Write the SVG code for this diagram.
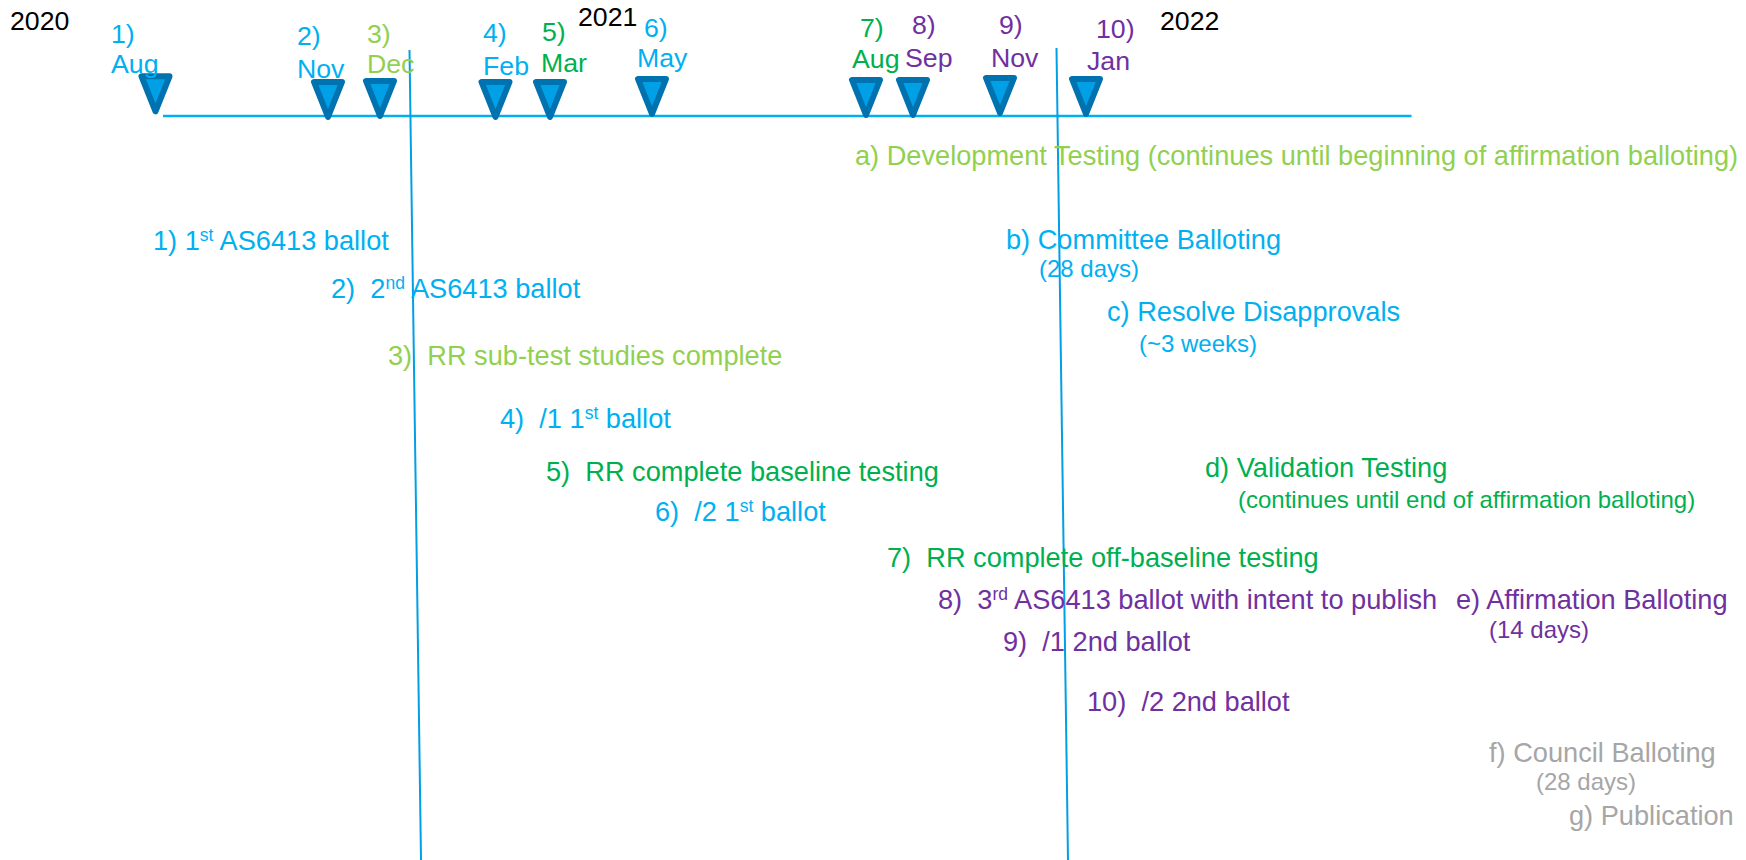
<svg xmlns="http://www.w3.org/2000/svg" xmlns:xlink="http://www.w3.org/1999/xlink" width="1746" height="860" viewBox="0 0 1746 860">
<style>
text{font-family:"Liberation Sans",Arial,sans-serif;font-size:27.2px;white-space:pre}
.yr{font-size:26.7px}
.mo{font-size:26.7px}
.sm{font-size:24px}
.sup{font-size:17.5px}
.k{fill:#000}
.lb{fill:#00B0F0}
.lg{fill:#92D050}
.g{fill:#00B050}
.p{fill:#7030A0}
.gr{fill:#A6A6A6}
.tri{fill:#00A0E6;stroke:#0072B0;stroke-width:6;stroke-linejoin:round}
.axis{stroke:#00B0F0;stroke-width:2.5;fill:none}
.vline{stroke:#00A0E6;stroke-width:2;fill:none}
</style>
<defs>
<path id="tri" d="M-14,3 H14 L0,38 Z"/>
</defs>
<rect width="1746" height="860" fill="#fff"/>

<g id="connectors">
<line class="axis" x1="163" y1="116" x2="1411.5" y2="116"/>
<line class="vline" x1="409.5" y1="50" x2="421" y2="860"/>
<line class="vline" x1="1056.5" y1="48" x2="1068" y2="860"/>
</g>

<g id="years">
<text class="k yr" x="10" y="30">2020</text>
<text class="k yr" x="578" y="26">2021</text>
<text class="k yr" x="1160" y="30">2022</text>
</g>

<g id="m1"><use class="tri" href="#tri" x="155.5" y="73.3"/><text class="lb mo" x="111" y="42.5">1)</text><text class="lb mo" x="111" y="73">Aug</text></g>
<g id="m2"><use class="tri" href="#tri" x="328" y="79"/><text class="lb mo" x="297" y="45">2)</text><text class="lb mo" x="297" y="78">Nov</text></g>
<g id="m3"><use class="tri" href="#tri" x="380" y="78"/><text class="lg mo" x="367" y="42.5">3)</text><text class="lg mo" x="367" y="73">Dec</text></g>
<g id="m4"><use class="tri" href="#tri" x="495.5" y="79"/><text class="lb mo" x="483" y="42">4)</text><text class="lb mo" x="483" y="75">Feb</text></g>
<g id="m5"><use class="tri" href="#tri" x="550" y="79"/><text class="g mo" x="542" y="41">5)</text><text class="g mo" x="541" y="72">Mar</text></g>
<g id="m6"><use class="tri" href="#tri" x="652" y="76"/><text class="lb mo" x="644" y="37">6)</text><text class="lb mo" x="637" y="67">May</text></g>
<g id="m7"><use class="tri" href="#tri" x="866" y="77"/><text class="g mo" x="860" y="37">7)</text><text class="g mo" x="852" y="68">Aug</text></g>
<g id="m8"><use class="tri" href="#tri" x="913" y="77"/><text class="p mo" x="912" y="34">8)</text><text class="p mo" x="905" y="67">Sep</text></g>
<g id="m9"><use class="tri" href="#tri" x="1000" y="75"/><text class="p mo" x="999" y="34">9)</text><text class="p mo" x="991" y="67">Nov</text></g>
<g id="m10"><use class="tri" href="#tri" x="1086" y="76"/><text class="p mo" x="1096" y="38">10)</text><text class="p mo" x="1087" y="70">Jan</text></g>

<g id="a"><text class="lg" x="855" y="165">a) Development Testing (continues until beginning of affirmation balloting)</text></g>
<g id="e1"><text class="lb" x="153" y="250">1) 1<tspan class="sup" dy="-9">st</tspan><tspan dy="9"> AS6413 ballot</tspan></text></g>
<g id="b"><text class="lb" x="1006" y="249">b) Committee Balloting</text><text class="lb sm" x="1039" y="277">(28 days)</text></g>
<g id="e2"><text class="lb" x="331" y="298">2)  2<tspan class="sup" dy="-9">nd</tspan><tspan dy="9"> AS6413 ballot</tspan></text></g>
<g id="c"><text class="lb" x="1107" y="321">c) Resolve Disapprovals</text><text class="lb sm" x="1139" y="352">(~3 weeks)</text></g>
<g id="e3"><text class="lg" x="388" y="365">3)  RR sub-test studies complete</text></g>
<g id="e4"><text class="lb" x="500" y="428">4)  /1 1<tspan class="sup" dy="-9">st</tspan><tspan dy="9"> ballot</tspan></text></g>
<g id="d"><text class="g" x="1205" y="477">d) Validation Testing</text><text class="g sm" x="1238" y="508">(continues until end of affirmation balloting)</text></g>
<g id="e5"><text class="g" x="546" y="481">5)  RR complete baseline testing</text></g>
<g id="e6"><text class="lb" x="655" y="521">6)  /2 1<tspan class="sup" dy="-9">st</tspan><tspan dy="9"> ballot</tspan></text></g>
<g id="e7"><text class="g" x="887" y="567">7)  RR complete off-baseline testing</text></g>
<g id="e8"><text class="p" x="938" y="609">8)  3<tspan class="sup" dy="-9">rd</tspan><tspan dy="9"> AS6413 ballot with intent to publish</tspan></text></g>
<g id="e"><text class="p" x="1456" y="609">e) Affirmation Balloting</text><text class="p sm" x="1489" y="638">(14 days)</text></g>
<g id="e9"><text class="p" x="1003" y="651">9)  /1 2nd ballot</text></g>
<g id="e10"><text class="p" x="1087" y="711">10)  /2 2nd ballot</text></g>
<g id="f"><text class="gr" x="1489" y="762">f) Council Balloting</text><text class="gr sm" x="1536" y="790">(28 days)</text></g>
<g id="g"><text class="gr" x="1569" y="825">g) Publication</text></g>
</svg>
